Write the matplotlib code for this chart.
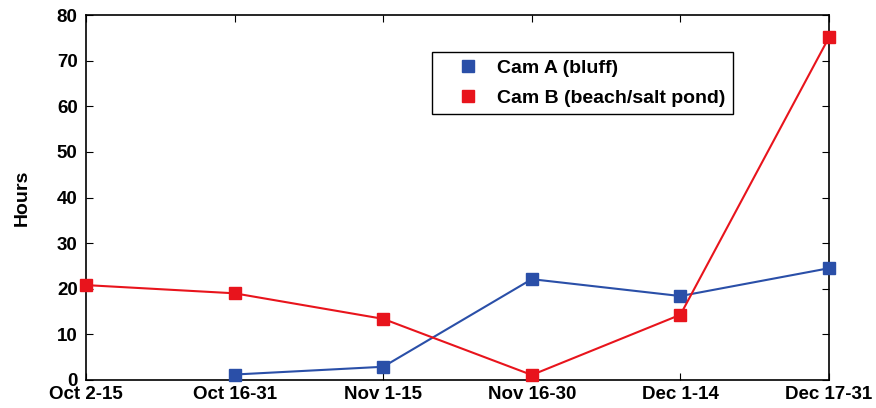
import matplotlib.pyplot as plt

periods = ["Oct 2-15", "Oct 16-31", "Nov 1-15", "Nov 16-30", "Dec 1-14", "Dec 17-31"]
cam_a = [None, 1.2, 2.9, 22.1, 18.4, 24.5]
cam_b = [20.8, 19.0, 13.4, 1.1, 14.3, 75.1]

plt.rcParams['font.family'] = ['Liberation Sans', 'DejaVu Sans']
plt.rcParams['font.weight'] = 'bold'

fig = plt.figure(figsize=(8.76, 4.08), dpi=100)
ax = fig.add_axes([86 / 876, 1 - 380 / 408, (829 - 86) / 876, (380 - 15) / 408])

xa = [i for i, v in enumerate(cam_a) if v is not None]
ya = [v for v in cam_a if v is not None]
ax.plot(xa, ya, color='#2a4fa8', lw=1.5, marker='s', ms=8, label='Cam A (bluff)',
        clip_on=False, zorder=3)
ax.plot(range(len(cam_b)), cam_b, color='#e8141c', lw=1.5, marker='s', ms=8,
        label='Cam B (beach/salt pond)', clip_on=False, zorder=4)

ax.set_xlim(0, len(periods) - 1)
ax.set_ylim(0, 80)
ax.set_xticks(range(len(periods)))
ax.set_xticklabels(periods)
ax.set_yticks(range(0, 81, 10))
ax.tick_params(direction='in', top=True, right=True, labelsize=13.5, length=5)
ax.tick_params(axis='y', pad=6)
ax.tick_params(axis='x', pad=4)
for s in ax.spines.values():
    s.set_linewidth(1.2)
ax.set_ylabel("Hours", fontsize=14, fontweight='bold')
ax.yaxis.set_label_coords(-0.074, 0.5)

leg = ax.legend(loc='upper left', bbox_to_anchor=((432 - 86) / 743, (380 - 52) / 365),
                fontsize=14, handlelength=2.9, handletextpad=0.05, borderpad=0.38,
                borderaxespad=0, labelspacing=0.64, fancybox=False, framealpha=1,
                edgecolor='black')
for h in leg.legend_handles:
    h.set_linestyle('None')
leg.get_frame().set_linewidth(1.0)

fig.savefig("out.png", dpi=100)
